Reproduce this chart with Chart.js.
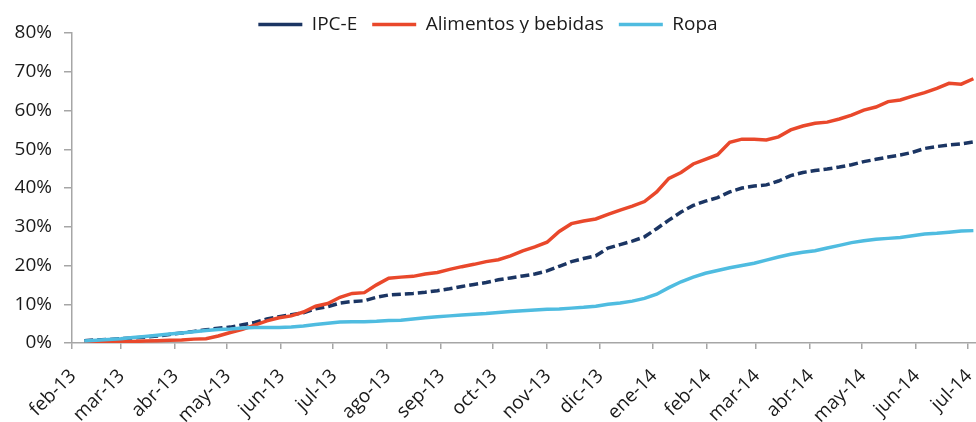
<!DOCTYPE html>
<html>
<head>
<meta charset="utf-8">
<script src="https://cdn.jsdelivr.net/npm/chart.js@4.4.1/dist/chart.umd.min.js"></script>
<style>
    html, body { margin: 0; padding: 0; background: #fff; }
    canvas { display: block; }
</style>
</head>
<body>
<canvas id="ipcChart" width="976" height="422"></canvas>
<script>
// Variación acumulada semanal (%) desde febrero 2013
const monthLabels = ['feb-13', 'mar-13', 'abr-13', 'may-13', 'jun-13', 'jul-13', 'ago-13', 'sep-13', 'oct-13',
    'nov-13', 'dic-13', 'ene-14', 'feb-14', 'mar-14', 'abr-14', 'may-14', 'jun-14', 'jul-14'];
const yTicks = [0, 10, 20, 30, 40, 50, 60, 70, 80];

const ipcE = [0.6, 0.8, 0.9, 1.1, 1.3, 1.5, 1.8, 2.2, 2.6, 3.0,
    3.4, 3.8, 4.1, 4.7, 5.3, 6.2, 6.8, 7.3, 7.8, 8.8,
    9.4, 10.3, 10.7, 10.9, 11.8, 12.4, 12.6, 12.8, 13.1, 13.5,
    14.0, 14.6, 15.1, 15.6, 16.3, 16.8, 17.3, 17.8, 18.6, 19.8,
    21.0, 21.8, 22.5, 24.5, 25.4, 26.3, 27.4, 29.5, 31.7, 33.8,
    35.5, 36.6, 37.5, 39.0, 40.0, 40.5, 40.8, 41.8, 43.2, 44.0,
    44.5, 44.9, 45.4, 46.0, 46.8, 47.4, 48.0, 48.5, 49.2, 50.2,
    50.7, 51.1, 51.4, 51.9];

const alimentos = [0.2, 0.2, 0.3, 0.3, 0.4, 0.5, 0.6, 0.7, 0.8, 1.0,
    1.1, 1.8, 2.7, 3.5, 4.6, 5.7, 6.5, 7.0, 8.0, 9.5,
    10.2, 11.8, 12.8, 13.0, 15.0, 16.7, 17.0, 17.2, 17.8, 18.2,
    19.0, 19.7, 20.3, 21.0, 21.5, 22.5, 23.8, 24.8, 26.0, 28.8,
    30.8, 31.5, 32.0, 33.2, 34.3, 35.3, 36.5, 39.0, 42.5, 44.0,
    46.2, 47.4, 48.6, 51.8, 52.6, 52.6, 52.4, 53.2, 55.0, 56.0,
    56.7, 57.0, 57.8, 58.8, 60.1, 60.9, 62.3, 62.7, 63.7, 64.6,
    65.7, 67.0, 66.8, 68.2];

const ropa = [0.5, 0.7, 0.9, 1.1, 1.4, 1.7, 2.0, 2.3, 2.6, 2.9,
    3.2, 3.5, 3.6, 3.9, 4.0, 4.0, 4.0, 4.1, 4.4, 4.8,
    5.1, 5.4, 5.5, 5.5, 5.6, 5.8, 5.9, 6.2, 6.5, 6.8,
    7.0, 7.2, 7.4, 7.6, 7.9, 8.1, 8.3, 8.5, 8.7, 8.8,
    9.0, 9.2, 9.5, 10.0, 10.3, 10.8, 11.5, 12.6, 14.3, 15.8,
    17.0, 18.0, 18.7, 19.4, 20.0, 20.6, 21.4, 22.2, 22.9, 23.4,
    23.8, 24.5, 25.2, 25.9, 26.4, 26.8, 27.0, 27.2, 27.7, 28.1,
    28.3, 28.6, 28.9, 29.0];

// days counted from 1 feb 2013; one point per week
const DAY = 86400000;
const start = Date.UTC(2013, 1, 1);
const monthDays = monthLabels.map((m, i) => (Date.UTC(2013, 1 + i, 1) - start) / DAY);
const toPoints = arr => arr.map((v, i) => ({ x: 7 + 7 * i, y: v }));

const axisGrey = '#A6A6A6';

Chart.defaults.font.family = "'Open Sans', sans-serif";
Chart.defaults.font.size = 19;
Chart.defaults.color = '#1a1a1a';

const ctx = document.getElementById('ipcChart');
new Chart(ctx, {
    type: 'line',
    data: {
        datasets: [
            {
                label: 'IPC-E',
                data: toPoints(ipcE),
                borderColor: '#1B3563',
                borderDash: [9, 4],
                borderWidth: 3.5,
                pointRadius: 0,
                order: 3
            },
            {
                label: 'Alimentos y bebidas',
                data: toPoints(alimentos),
                borderColor: '#E9482B',
                borderWidth: 3.5,
                pointRadius: 0,
                order: 2
            },
            {
                label: 'Ropa',
                data: toPoints(ropa),
                borderColor: '#4FBCE0',
                borderWidth: 3.5,
                pointRadius: 0,
                order: 1
            }
        ]
    },
    options: {
        responsive: false,
        animation: false,
        layout: { padding: 0 },
        plugins: {
            legend: {
                position: 'top',
                maxHeight: 33,
                labels: {
                    usePointStyle: true,
                    pointStyle: 'line',
                    pointStyleWidth: 44,
                    padding: 15,
                    color: '#1a1a1a',
                    sort: (a, b) => a.datasetIndex - b.datasetIndex
                }
            },
            tooltip: { enabled: false }
        },
        scales: {
            x: {
                type: 'linear',
                min: 0,
                max: 519.5,
                afterBuildTicks: s => { s.ticks = monthDays.map(v => ({ value: v })); },
                afterFit: s => {
                    s.height = 79;
                    s.paddingLeft = 0;
                    s.paddingRight = 0;
                },
                grid: { drawOnChartArea: false, tickLength: 6, color: axisGrey, lineWidth: 1.5 },
                border: { color: axisGrey, width: 1.5 },
                ticks: {
                    autoSkip: false,
                    minRotation: 45,
                    maxRotation: 45,
                    labelOffset: 1,
                    padding: 16,
                    callback: (v, i) => monthLabels[i]
                }
            },
            y: {
                min: 0,
                max: 80,
                afterBuildTicks: s => { s.ticks = yTicks.map(v => ({ value: v })); },
                afterFit: s => { s.width = 72; },
                grid: { drawOnChartArea: false, tickLength: 8, color: axisGrey, lineWidth: 1.5 },
                border: { color: axisGrey, width: 1.5 },
                ticks: {
                    padding: 12,
                    callback: v => v + '%'
                }
            }
        }
    }
});
</script>
</body>
</html>
